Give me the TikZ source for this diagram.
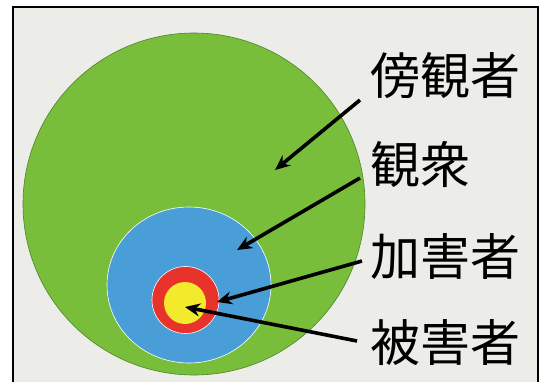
\documentclass[tikz,border=0pt]{standalone}
\usepackage{fontspec}
\newfontfamily\jpfont{Noto Sans CJK JP}
\usetikzlibrary{arrows.meta, shapes.geometric}

\definecolor{paper}{RGB}{236,236,233}
\definecolor{outergreen}{RGB}{120,190,58}
\definecolor{greenedge}{RGB}{80,130,45}
\definecolor{crowdblue}{RGB}{74,158,216}
\definecolor{bullyred}{RGB}{232,50,44}
\definecolor{victimyellow}{RGB}{242,234,43}

\begin{document}
\begin{tikzpicture}[x = 1pt, y = -1pt,
  ring/.style = {circle, inner sep = 0pt, draw = white, line width = 0.6pt},
  lbl/.style = {anchor = west, inner sep = 0pt, font = \jpfont\fontsize{50}{50}\selectfont},
  arr/.style = {line width = 3.6pt, -{Stealth[length = 15pt, width = 13pt]}}]
  \useasboundingbox (0,0) rectangle (543,381);
  \clip (0,0) rectangle (543,381);
  \fill[white] (0,0) rectangle (543,381);
  \draw[fill = paper, line width = 2.4pt] (13,7) rectangle (538,400);

  % circles
  \node[ring, fill = outergreen, draw = greenedge, minimum size = 342pt] (green) at (194,204) {};
  \node[ring, ellipse, fill = crowdblue, minimum width = 164pt, minimum height = 156pt] (blue) at (189,285) {};
  \node[ring, fill = bullyred, minimum size = 67pt] (red) at (185.5,300) {};
  \node[ring, fill = victimyellow, draw = none, minimum size = 42pt] (yellow) at (185,303) {};

  % labels
  \node[lbl] (bystander) at (370,76) {傍観者};
  \node[lbl] (audience) at (370,165) {観衆};
  \node[lbl] (bully) at (370,257) {加害者};
  \node[lbl] (victim) at (370,343) {被害者};

  \coordinate (tip1) at (275,170);
  \coordinate (tip2) at (237,250);
  \coordinate (tip3) at (217,302);
  \coordinate (tip4) at (185,307);

  \draw[arr] ([shift = {(-10,24)}]bystander.west) -- (tip1);
  \draw[arr] ([shift = {(-10,13)}]audience.west) -- (tip2);
  \draw[arr] ([shift = {(-8,4)}]bully.west) -- (tip3);
  \draw[arr] ([shift = {(-13,-2)}]victim.west) -- (tip4);
\end{tikzpicture}
\end{document}
